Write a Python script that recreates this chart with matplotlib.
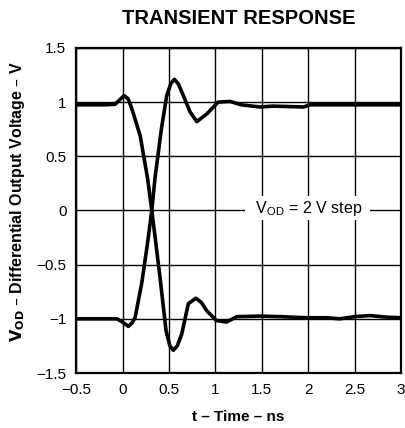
import matplotlib
matplotlib.use("Agg")
import matplotlib.pyplot as plt

plt.rcParams['font.family'] = ['Liberation Sans', 'DejaVu Sans']

# falling output (starts high)
t_fall = [-0.5, -0.2, -0.08, -0.02, 0.017, 0.06, 0.10, 0.19, 0.27, 0.315, 0.36, 0.404,
          0.469, 0.51, 0.547, 0.59, 0.638, 0.709, 0.79, 0.85, 0.907, 1.01, 1.12, 1.23,
          1.48, 1.7, 1.98, 2.2, 2.34, 2.5, 2.67, 2.85, 3.0]
v_fall = [0.975, 0.975, 0.98, 1.03, 1.06, 1.03, 0.94, 0.69, 0.295, 0.0, -0.31, -0.62,
          -1.11, -1.25, -1.29, -1.25, -1.14, -0.86, -0.81, -0.85, -0.925, -1.015, -1.03, -0.98,
          -0.975, -0.98, -0.99, -0.99, -1.0, -0.98, -0.97, -0.985, -0.99]

# rising output (starts low)
t_rise = [-0.5, -0.2, -0.06, 0.0, 0.063, 0.10, 0.135, 0.207, 0.268, 0.315, 0.35, 0.42,
          0.476, 0.52, 0.558, 0.60, 0.655, 0.727, 0.80, 0.907, 1.03, 1.16, 1.28,
          1.48, 1.62, 1.95, 2.02, 2.5, 3.0]
v_rise = [-1.0, -1.0, -1.0, -1.03, -1.07, -1.04, -0.99, -0.67, -0.31, 0.0, 0.30, 0.76,
          1.06, 1.17, 1.21, 1.17, 1.06, 0.91, 0.82, 0.89, 1.0, 1.006, 0.975,
          0.955, 0.963, 0.955, 0.975, 0.975, 0.975]

x_ticks = [-0.5, 0, 0.5, 1, 1.5, 2, 2.5, 3]
x_labels = ['\u22120.5', '0', '0.5', '1', '1.5', '2', '2.5', '3']
y_ticks = [-1.5, -1, -0.5, 0, 0.5, 1, 1.5]
y_labels = ['\u22121.5', '\u22121', '\u22120.5', '0', '0.5', '1', '1.5']

fig = plt.figure(figsize=(4.05, 4.28), dpi=100)
ax = fig.add_axes([0.188, 0.1285, 0.802, 0.7595])

ax.plot(t_fall, v_fall, color='black', lw=2.6, solid_joinstyle='round', zorder=3)
ax.plot(t_rise, v_rise, color='black', lw=2.6, solid_joinstyle='round', zorder=3)

ax.set_xlim(-0.5, 3)
ax.set_ylim(-1.5, 1.5)
ax.set_xticks(x_ticks)
ax.set_xticklabels(x_labels)
ax.set_yticks(y_ticks)
ax.set_yticklabels(y_labels)
ax.tick_params(length=0, labelsize=11)
ax.tick_params(axis='x', pad=7)
ax.tick_params(axis='y', pad=7)
ax.grid(True, color='black', lw=1.0)
ax.set_axisbelow(True)
for s in ax.spines.values():
    s.set_linewidth(1.6)

ax.text(1.99, 0.02, '  $\\mathregular{V_{OD}}$ = 2 V step  ', fontsize=11.5,
        ha='center', va='center', zorder=4,
        bbox=dict(facecolor='white', edgecolor='none', boxstyle='square,pad=0.15'))

fig.text(238.5 / 405, 1 - 18 / 428, 'TRANSIENT RESPONSE', fontsize=14.5,
         fontweight='bold', ha='center', va='center')

ax.set_xlabel('t \u2013 Time \u2013 ns', fontsize=11, fontweight='bold')
ax.xaxis.set_label_coords(0.5, -0.135)
ax.xaxis.label.set_va('center')

ax.set_ylabel('$\\mathregular{\\bf V_{OD}}$ \u2013 Differential Output Voltage \u2013 V',
              fontsize=11.5, fontweight='bold')
ax.yaxis.set_label_coords(-0.182, 0.526)
ax.yaxis.label.set_va('center')

fig.savefig('out.png', dpi=100)
